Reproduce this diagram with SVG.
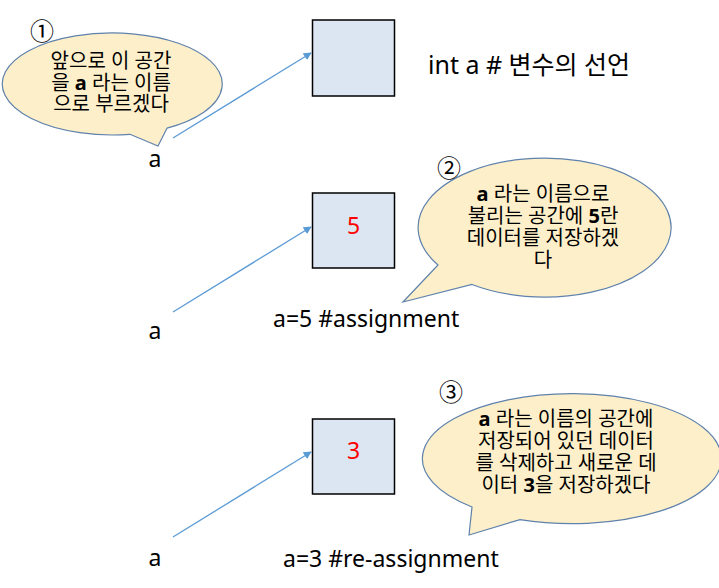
<svg xmlns="http://www.w3.org/2000/svg" width="719" height="588" viewBox="0 0 719 588">
<defs>
<style>
.box{fill:#DCE6F2;stroke:#000;stroke-width:1.5}
.bub{fill:#FDEFCA;stroke:#5F82AC;stroke-width:1.2}
.conn{stroke:#5B9BD5;stroke-width:1.3;fill:none}
text{font-family:"Noto Sans","Noto Sans CJK KR",sans-serif;fill:#000}
.lbl{font-size:23px}
.big{font-size:25px}
.bt{font-size:20px;text-anchor:middle}
.num{font-size:24px;text-anchor:middle}
.val{font-size:23px;fill:#FF0000;text-anchor:middle}
.b{font-weight:bold}
</style>
<marker id="ah" viewBox="0 0 10 10" refX="9" refY="5" markerWidth="8" markerHeight="8" markerUnits="userSpaceOnUse" orient="auto">
<path d="M0,0 L10,5 L0,10 Z" fill="#5B9BD5"/>
</marker>
</defs>

<g id="connectors">
<line class="conn" x1="173" y1="138" x2="311" y2="53" marker-end="url(#ah)"/>
<line class="conn" x1="173" y1="312" x2="311" y2="227" marker-end="url(#ah)"/>
<line class="conn" x1="173" y1="537" x2="311" y2="452" marker-end="url(#ah)"/>
</g>

<g id="box1"><rect class="box" x="312.5" y="20" width="82" height="76"/></g>
<g id="box2"><rect class="box" x="312.5" y="193" width="82" height="75"/><text class="val" x="353.5" y="234">5</text></g>
<g id="box3"><rect class="box" x="312.5" y="419" width="82" height="75"/><text class="val" x="353.5" y="459">3</text></g>

<g id="label-a1"><text class="lbl" x="155" y="167" text-anchor="middle">a</text></g>
<g id="label-a2"><text class="lbl" x="155" y="339" text-anchor="middle">a</text></g>
<g id="label-a3"><text class="lbl" x="155" y="566" text-anchor="middle">a</text></g>

<g id="stmt1"><text class="big" x="428" y="74">int a # 변수의 선언</text></g>
<g id="stmt2"><text class="lbl" x="273" y="327">a=5 #assignment</text></g>
<g id="stmt3"><text class="lbl" x="283" y="567">a=3 #re-assignment</text></g>

<g id="bubble1">
<path class="bub" d="M130,134.3 A110,51 0 1 1 167,128.2 L158,146 Z"/>
<text class="num" x="42" y="40">①</text>
<text class="bt" x="111" y="68">앞으로 이 공간</text>
<text class="bt" x="111" y="90">을 <tspan class="b">a</tspan> 라는 이름</text>
<text class="bt" x="111" y="111">으로 부르겠다</text>
</g>

<g id="bubble2">
<path class="bub" d="M438,265 A126.5,69.5 0 1 1 472,284.5 L403,302 Z"/>
<text class="num" x="449" y="177">②</text>
<text class="bt" x="543" y="201"><tspan class="b">a</tspan> 라는 이름으로</text>
<text class="bt" x="543" y="223">불리는 공간에 <tspan class="b">5</tspan>란</text>
<text class="bt" x="543" y="245">데이터를 저장하겠</text>
<text class="bt" x="543" y="267">다</text>
</g>

<g id="bubble3">
<path class="bub" d="M472,507 A149.5,65 0 1 1 520,519.6 L469,535 Z"/>
<text class="num" x="451" y="401">③</text>
<text class="bt" x="566" y="426"><tspan class="b">a</tspan> 라는 이름의 공간에</text>
<text class="bt" x="566" y="448">저장되어 있던 데이터</text>
<text class="bt" x="566" y="470">를 삭제하고 새로운 데</text>
<text class="bt" x="566" y="492">이터 <tspan class="b">3</tspan>을 저장하겠다</text>
</g>
</svg>
